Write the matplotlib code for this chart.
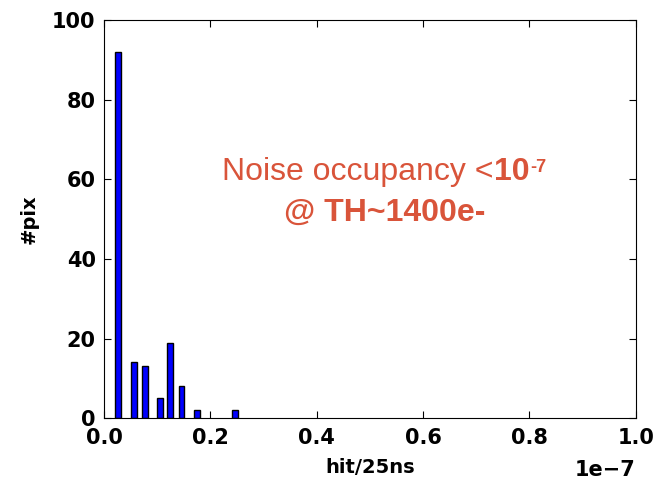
import numpy as np
import matplotlib
matplotlib.use("Agg")
import matplotlib.pyplot as plt
from matplotlib import font_manager as fm
from matplotlib.transforms import ScaledTranslation

# occupancy values (units of 1e-7) and number of pixels
occ = [0.026, 0.056, 0.077, 0.105, 0.124, 0.146, 0.175, 0.246]
npix = [92, 14, 13, 5, 19, 8, 2, 2]
xticks = [0.0, 0.2, 0.4, 0.6, 0.8, 1.0]
yticks = [0, 20, 40, 60, 80, 100]

# plain Liberation Sans (not the Narrow one)
reg_path = bold_path = None
for f in fm.findSystemFonts():
    name = f.split('/')[-1]
    if name == 'LiberationSans-Regular.ttf':
        reg_path = f
    if name == 'LiberationSans-Bold.ttf':
        bold_path = f
big = 23
reg = fm.FontProperties(fname=reg_path, size=big) if reg_path else fm.FontProperties(family='Liberation Sans', size=big)
bold = fm.FontProperties(fname=bold_path, size=big) if bold_path else fm.FontProperties(family='Liberation Sans', weight='bold', size=big)
bold_sm = bold.copy()
bold_sm.set_size(13)

fig = plt.figure(figsize=(6.54, 4.79), dpi=100)
ax = fig.add_axes([0.159, 0.127, 0.813, 0.831])

ax.bar(np.array(occ) * 1e-7, npix, width=0.0105e-7, color='#0000ff',
       edgecolor='black', linewidth=1)

ax.set_xlim(0, 1e-7)
ax.set_ylim(0, 100)
ax.set_xticks(np.array(xticks) * 1e-7)
ax.set_yticks(yticks)
ax.tick_params(direction='in', top=True, right=True, length=5,
               labelsize=15, pad=6)
ax.tick_params(axis='x', pad=7)
for lab in ax.get_xticklabels() + ax.get_yticklabels():
    lab.set_fontweight('bold')
ot = ax.xaxis.get_offset_text()
ot.set_fontsize(15)
ot.set_fontweight('bold')
ot.set_transform(ot.get_transform() + ScaledTranslation(0, -6 / 72, fig.dpi_scale_trans))
ax.set_xlabel('hit/25ns', fontsize=14, fontweight='bold', labelpad=7)
ax.set_ylabel('#pix', fontsize=14, fontweight='bold', labelpad=10)

red = '#d9543a'
H = 479
t1 = ax.text(222, H - 172, 'Noise occupancy <', transform=None, ha='left',
             va='center', color=red, fontproperties=reg)
fig.canvas.draw()
bb = t1.get_window_extent()
t2 = ax.text(bb.x1, H - 172, '10', transform=None, ha='left', va='center',
             color=red, fontproperties=bold)
fig.canvas.draw()
bb2 = t2.get_window_extent()
ax.text(bb2.x1 + 1, H - 159, '-7', transform=None, ha='left',
        va='top', color=red, fontproperties=bold_sm)
ax.text(385, H - 213, '@ TH~1400e-', transform=None, ha='center',
        va='center', color=red, fontproperties=bold)

fig.savefig('out.png', dpi=100)
